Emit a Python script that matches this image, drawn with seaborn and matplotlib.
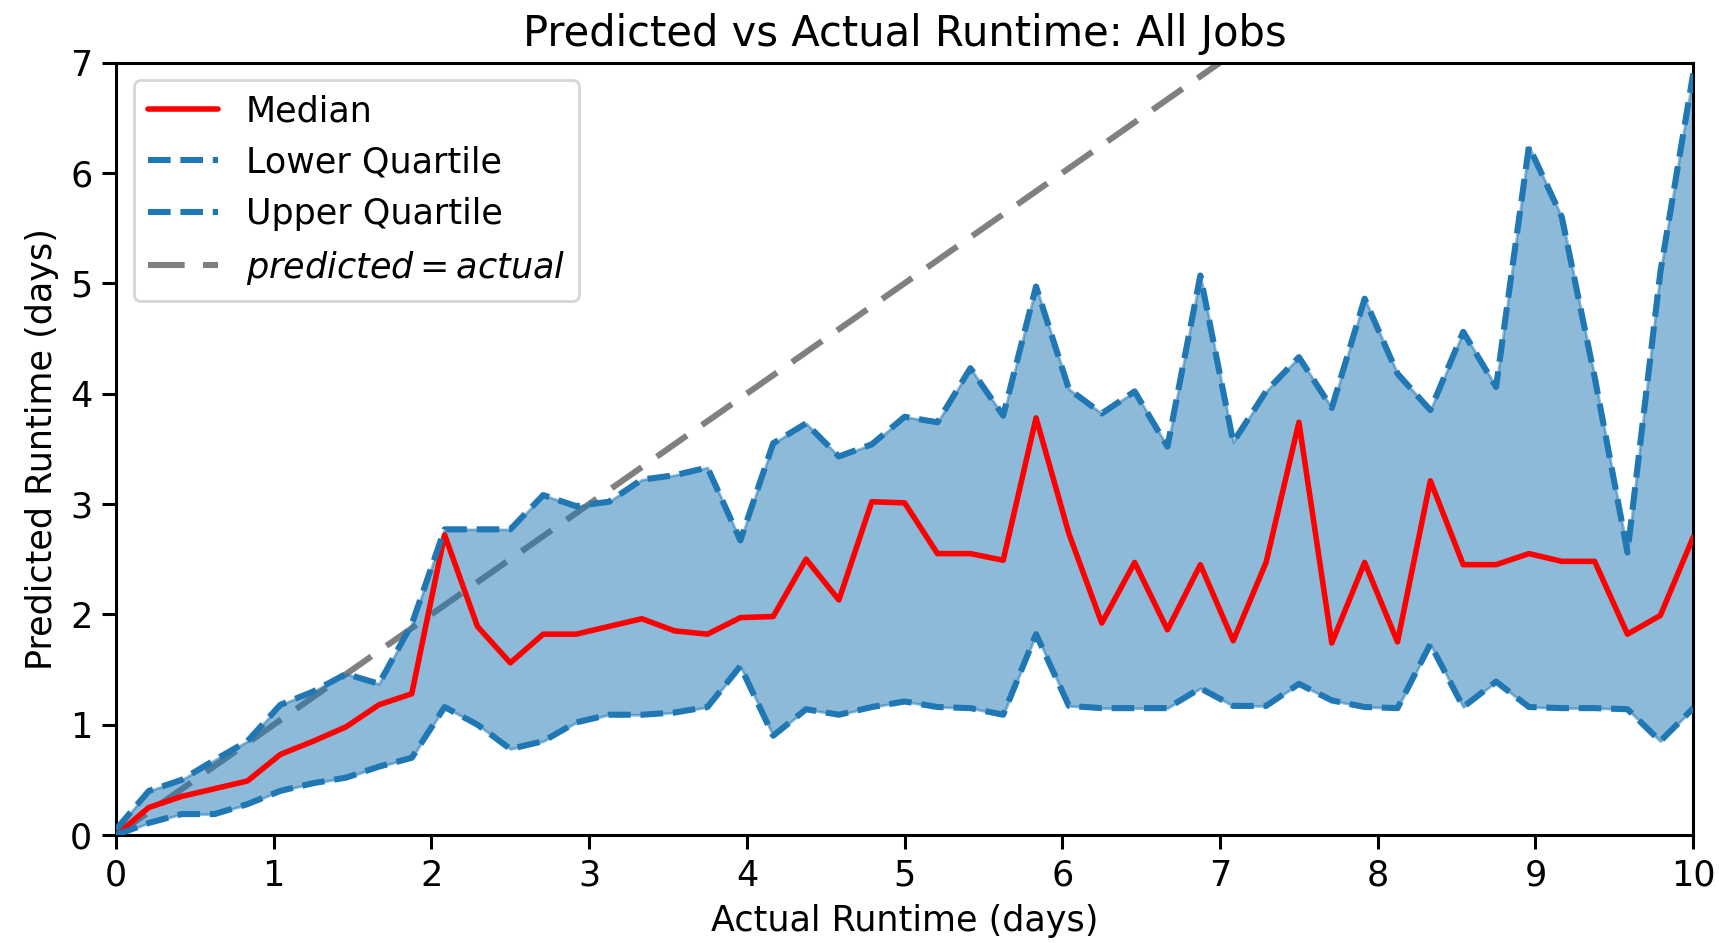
import numpy as np
import pandas as pd
import matplotlib
matplotlib.use("Agg")
import matplotlib.pyplot as plt
import seaborn as sns

# bin centres (days) and the quartile curves
actual_days = np.linspace(0, 10, 49)

median = [0.00, 0.25, 0.35, 0.42, 0.49, 0.73, 0.85, 0.98, 1.18, 1.28,
          2.72, 1.89, 1.56, 1.82, 1.82, 1.89, 1.96, 1.85, 1.82, 1.97,
          1.98, 2.50, 2.13, 3.02, 3.01, 2.55, 2.55, 2.49, 3.78, 2.73,
          1.92, 2.47, 1.86, 2.45, 1.76, 2.47, 3.74, 1.74, 2.47, 1.75,
          3.21, 2.45, 2.45, 2.55, 2.48, 2.48, 1.82, 1.99, 2.70]

lower_q = [0.00, 0.11, 0.19, 0.19, 0.28, 0.40, 0.47, 0.52, 0.62, 0.70,
           1.16, 1.00, 0.78, 0.85, 1.02, 1.09, 1.09, 1.11, 1.16, 1.53,
           0.90, 1.14, 1.09, 1.16, 1.21, 1.16, 1.15, 1.09, 1.82, 1.17,
           1.15, 1.15, 1.15, 1.33, 1.17, 1.17, 1.37, 1.22, 1.16, 1.15,
           1.73, 1.16, 1.39, 1.16, 1.15, 1.15, 1.14, 0.85, 1.15]

upper_q = [0.05, 0.40, 0.50, 0.68, 0.85, 1.18, 1.30, 1.46, 1.37, 1.91,
           2.77, 2.77, 2.77, 3.08, 2.98, 3.02, 3.22, 3.26, 3.33, 2.67,
           3.55, 3.73, 3.43, 3.54, 3.79, 3.74, 4.23, 3.80, 4.97, 4.04,
           3.82, 4.02, 3.52, 5.07, 3.56, 4.02, 4.33, 3.87, 4.86, 4.18,
           3.85, 4.56, 4.06, 6.24, 5.60, 4.15, 2.56, 5.10, 6.90]

df = pd.DataFrame({"actual": actual_days, "median": median,
                   "lower": lower_q, "upper": upper_q})

sns.set_style("ticks")
plt.rcParams["font.family"] = ["DejaVu Sans"]
plt.rcParams["text.color"] = "black"
plt.rcParams["axes.labelcolor"] = "black"
plt.rcParams["xtick.color"] = "black"
plt.rcParams["ytick.color"] = "black"

FS = 12.6

fig = plt.figure(figsize=(8.595, 4.715), dpi=200)
ax = fig.add_axes([0.0675, 0.1145, 0.9175, 0.8192])

sns.lineplot(data=df, x="actual", y="median", color="red", lw=2.0,
             label="Median", ax=ax, zorder=3)
sns.lineplot(data=df, x="actual", y="lower", color="tab:blue", lw=2.2,
             linestyle="--", label="Lower Quartile", ax=ax, zorder=3)
sns.lineplot(data=df, x="actual", y="upper", color="tab:blue", lw=2.2,
             linestyle="--", label="Upper Quartile", ax=ax, zorder=3)

# y = x reference, sits under the translucent band
ax.plot([0, 10], [0, 10], color="gray", lw=2.2, dashes=(6, 3),
        label=r"$predicted = actual$", zorder=1)
ax.fill_between(df["actual"], df["lower"], df["upper"], color="tab:blue",
                alpha=0.5, zorder=2)

ax.set_xlim(0, 10)
ax.set_ylim(0, 7)
ax.set_xticks(range(0, 11))
ax.set_yticks(range(0, 8))
ax.tick_params(labelsize=FS, width=1.1, length=5, color="black")
for s in ax.spines.values():
    s.set_color("black")
    s.set_linewidth(1.1)

ax.set_xlabel("Actual Runtime (days)", fontsize=FS)
ax.set_ylabel("Predicted Runtime (days)", fontsize=FS)
ax.set_title("Predicted vs Actual Runtime: All Jobs", fontsize=15)
ax.legend(loc="upper left", fontsize=FS, frameon=True)

plt.savefig("out.png", dpi=200)
plt.close()
